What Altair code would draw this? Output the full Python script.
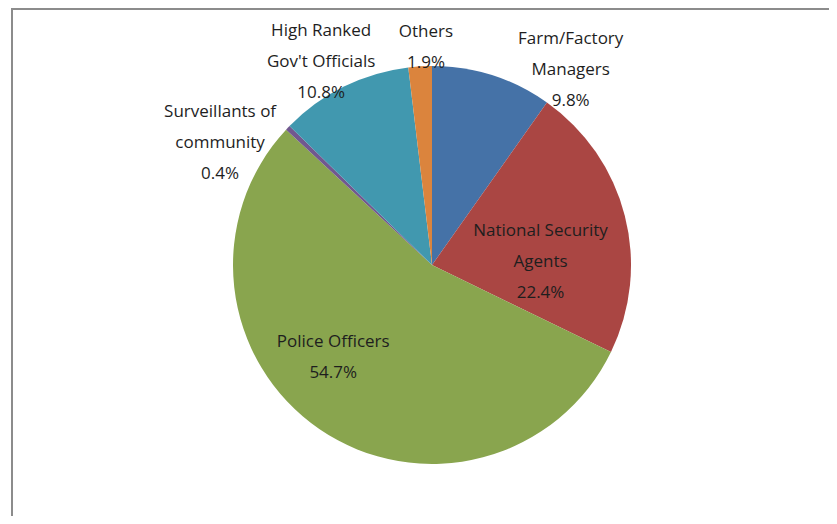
import altair as alt
import pandas as pd

categories = ["Farm/Factory Managers", "National Security Agents", "Police Officers",
              "Surveillants of community", "High Ranked Gov't Officials", "Others"]
label_names = ["Farm/Factory\nManagers", "National Security\nAgents", "Police Officers",
               "Surveillants of\ncommunity", "High Ranked\nGov't Officials", "Others"]
values = [9.8, 22.4, 54.7, 0.4, 10.8, 1.9]
colors = ["#4572A7", "#AA4643", "#89A54E", "#71588F", "#4198AF", "#DB843D"]

df = pd.DataFrame({
    "cat": categories,
    "lbl": label_names,
    "value": values,
    "order": list(range(len(categories))),
})

W, H = 821, 508
CX, CY, R = 424, 257, 199

theta_scale = alt.Scale(domain=[0, 100], range=[0, 6.283185307179586])

base = alt.Chart(df)

pie = base.mark_arc(radius=R, stroke=None).encode(
    theta=alt.Theta("value:Q", stack=True, scale=theta_scale),
    order=alt.Order("order:Q"),
    color=alt.Color("cat:N", scale=alt.Scale(domain=categories, range=colors), legend=None),
    x=alt.value(CX), y=alt.value(CY),
)

# label placement: (radius, dx, dy) per category; dy refers to the first line
place = {
    "Farm/Factory Managers": (230, 69, -7),
    "National Security Agents": (110, 2, -7),
    "Police Officers": (120, -31, -22),
    "Surveillants of community": (240, -38, 12),
    "High Ranked Gov't Officials": (230, -9, -28),
    "Others": (218, 7, -15),
}

lab_base = base.transform_window(
    cum="sum(value)", sort=[alt.SortField("order")]
).transform_calculate(
    mid="datum.cum - datum.value/2",
    txt="datum.lbl + '\\n' + format(datum.value, '.1f') + '%'",
)

layers = [pie]
for c in categories:
    r, dx, dy = place[c]
    layers.append(
        lab_base.transform_filter(alt.datum.cat == c).mark_text(
            radius=r, dx=dx, dy=dy, lineBreak="\n", lineHeight=31,
            font="Open Sans", fontSize=17, color="#1e1e1e",
            align="center", baseline="middle",
        ).encode(
            theta=alt.Theta("mid:Q", scale=theta_scale),
            text="txt:N",
            x=alt.value(CX), y=alt.value(CY),
        )
    )

frame_left = base.mark_rule(color="#8c8c8c", strokeWidth=2).encode(
    x=alt.value(4), y=alt.value(0), y2=alt.value(H)
)
frame_top = base.mark_rule(color="#8c8c8c", strokeWidth=2).encode(
    x=alt.value(4), x2=alt.value(W), y=alt.value(1)
)
layers += [frame_left, frame_top]

chart = alt.layer(*layers).properties(
    width=W, height=H,
    autosize=alt.AutoSizeParams(type="none"),
    padding=0,
    background="white",
).configure_view(stroke=None)

chart.save("out.html", embed_options={"renderer": "svg", "actions": False})
